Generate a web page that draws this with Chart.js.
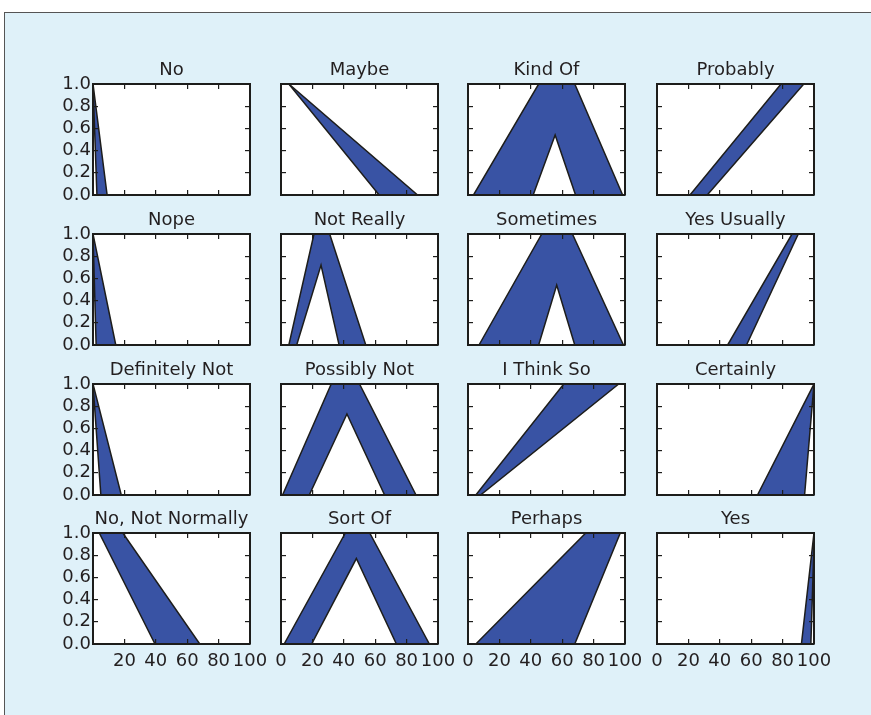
<!DOCTYPE html>
<html>
<head>
<meta charset="utf-8">
<title>Interval type-2 word models</title>
<script src="https://cdn.jsdelivr.net/npm/chart.js@4.4.1/dist/chart.umd.min.js"></script>
<style>
  html, body { margin: 0; padding: 0; background: #fff; }
  #frame {
    position: absolute; left: 4px; top: 12px; width: 880px; height: 720px;
    background: #dff1f9; border-left: 1px solid #555; border-top: 1px solid #555;
  }
  canvas { position: absolute; }
</style>
</head>
<body>
<div id="frame"></div>
<script>
// Panel titles, row by row
const titles = [
  'No', 'Maybe', 'Kind Of', 'Probably',
  'Nope', 'Not Really', 'Sometimes', 'Yes Usually',
  'Definitely Not', 'Possibly Not', 'I Think So', 'Certainly',
  'No, Not Normally', 'Sort Of', 'Perhaps', 'Yes'
];

// Upper membership functions as [x, y] corner points, same order as titles
const upperMF = [
  [[0, 1], [9, 0], [100, 0]],
  [[0, 1], [5, 1], [87, 0], [100, 0]],
  [[0, 0], [3.5, 0], [45, 1], [68, 1], [98.5, 0], [100, 0]],
  [[0, 0], [21, 0], [79, 1], [100, 1]],
  [[0, 1], [14.5, 0], [100, 0]],
  [[0, 0], [5, 0], [21, 1], [31, 1], [54, 0], [100, 0]],
  [[0, 0], [7, 0], [47, 1], [66.5, 1], [99, 0], [100, 0]],
  [[0, 0], [45, 0], [86, 1], [100, 1]],
  [[0, 1], [18, 0], [100, 0]],
  [[0, 0], [1, 0], [32, 1], [50, 1], [86, 0], [100, 0]],
  [[0, 0], [5, 0], [61, 1], [100, 1]],
  [[0, 0], [64, 0], [100, 1]],
  [[0, 1], [19, 1], [68, 0], [100, 0]],
  [[0, 0], [2, 0], [41, 1], [56.5, 1], [94.5, 0], [100, 0]],
  [[0, 0], [5, 0], [75, 1], [100, 1]],
  [[0, 0], [92, 0], [100, 1]]
];

// Lower membership functions
const lowerMF = [
  [[0, 1], [2.5, 0], [100, 0]],
  [[0, 1], [5, 1], [62.5, 0], [100, 0]],
  [[0, 0], [41.5, 0], [55.5, 0.54], [68.5, 0], [100, 0]],
  [[0, 0], [32, 0], [93.5, 1], [100, 1]],
  [[0, 1], [2, 0], [100, 0]],
  [[0, 0], [10, 0], [25.5, 0.72], [37, 0], [100, 0]],
  [[0, 0], [45, 0], [56.5, 0.54], [68, 0], [100, 0]],
  [[0, 0], [57, 0], [90, 1], [100, 1]],
  [[0, 1], [5, 0], [100, 0]],
  [[0, 0], [18, 0], [42, 0.73], [66, 0], [100, 0]],
  [[0, 0], [8, 0], [96, 1], [100, 1]],
  [[0, 0], [94, 0], [100, 1]],
  [[0, 1], [4, 1], [39.5, 0], [100, 0]],
  [[0, 0], [19.5, 0], [48, 0.77], [73.5, 0], [100, 0]],
  [[0, 0], [68, 0], [97, 1], [100, 1]],
  [[0, 0], [98, 0], [100, 0.9]]
];

const xTickLabels = ['0', '20', '40', '60', '80', '100'];
const yTickLabels = ['0.0', '0.2', '0.4', '0.6', '0.8', '1.0'];

const fillBlue = '#3953a4';
const lineColor = '#1d1d1b';
const textColor = '#231f20';
const font = { family: 'DejaVu Sans', size: 18, weight: 'normal' };

// where each panel's plot box sits on the page
const panelLefts = [93, 281, 468, 657];
const panelTops = [84, 234, 384, 533];
const panelWidth = 157;
const panelHeight = 111;
const sideRoom = 55;
const titleRoom = 29;
const bottomRoom = 30;

// white plot box behind the bands
const whitePanel = {
  id: 'whitePanel',
  beforeDraw(chart) {
    const { ctx, chartArea } = chart;
    ctx.save();
    ctx.fillStyle = '#fff';
    ctx.fillRect(chartArea.left, chartArea.top, chartArea.width, chartArea.height);
    ctx.restore();
  }
};

function toPoints(pairs) {
  return pairs.map((p) => ({ x: p[0], y: p[1] }));
}

// a linear axis with the ticks pointing inwards, drawn on top of the bands
function axis(position, isX, showLabels, labelFn, size) {
  return {
    type: 'linear',
    position: position,
    min: 0,
    max: isX ? 100 : 1,
    ticks: {
      stepSize: isX ? 20 : 0.2,
      display: showLabels,
      autoSkip: false,
      maxRotation: 0,
      padding: isX ? 12 : 7,
      font: font,
      color: textColor,
      callback: labelFn
    },
    grid: { drawOnChartArea: false, tickLength: -5, color: lineColor, lineWidth: 1.2, z: 1 },
    border: { color: lineColor, width: 2, z: 1 },
    afterFit: function(scale) {
      if (isX) {
        scale.height = size;
      } else {
        scale.width = size;
      }
    }
  };
}

function makeChart(index) {
  const col = index % 4;
  const row = Math.floor(index / 4);

  const canvas = document.createElement('canvas');
  canvas.width = sideRoom * 2 + panelWidth;
  canvas.height = titleRoom + panelHeight + bottomRoom;
  canvas.style.left = (panelLefts[col] - sideRoom) + 'px';
  canvas.style.top = (panelTops[row] - titleRoom) + 'px';
  document.body.appendChild(canvas);

  const xLabel = function(value) {
    const i = Math.round(value / 20);
    if (col === 0 && i === 0) {
      return '';
    }
    return xTickLabels[i];
  };
  const yLabel = function(value) {
    return yTickLabels[Math.round(value * 5)];
  };

  new Chart(canvas, {
    type: 'line',
    data: {
      datasets: [
        {
          label: 'Lower MF',
          data: toPoints(lowerMF[index]),
          borderColor: lineColor,
          borderWidth: 1.5,
          backgroundColor: '#fff',
          fill: 'origin',
          pointRadius: 0,
          tension: 0
        },
        {
          label: 'Upper MF',
          data: toPoints(upperMF[index]),
          borderColor: lineColor,
          borderWidth: 1.5,
          backgroundColor: fillBlue,
          fill: 'origin',
          pointRadius: 0,
          tension: 0
        }
      ]
    },
    options: {
      responsive: false,
      animation: false,
      devicePixelRatio: 1,
      layout: { padding: 0 },
      scales: {
        x: axis('bottom', true, row === 3, xLabel, bottomRoom),
        x2: axis('top', true, false, xLabel, 0),
        y: axis('left', false, col === 0, yLabel, sideRoom),
        y2: axis('right', false, false, yLabel, sideRoom)
      },
      plugins: {
        legend: { display: false },
        tooltip: { enabled: false },
        filler: { drawTime: 'beforeDatasetsDraw' },
        title: {
          display: true,
          text: titles[index],
          fullSize: false,
          color: textColor,
          font: { family: font.family, size: 18, weight: 'normal', lineHeight: '22px' },
          padding: { top: 4, bottom: 3 }
        }
      }
    },
    plugins: [whitePanel]
  });
}

for (let i = 0; i < titles.length; i++) {
  makeChart(i);
}
</script>
</body>
</html>
